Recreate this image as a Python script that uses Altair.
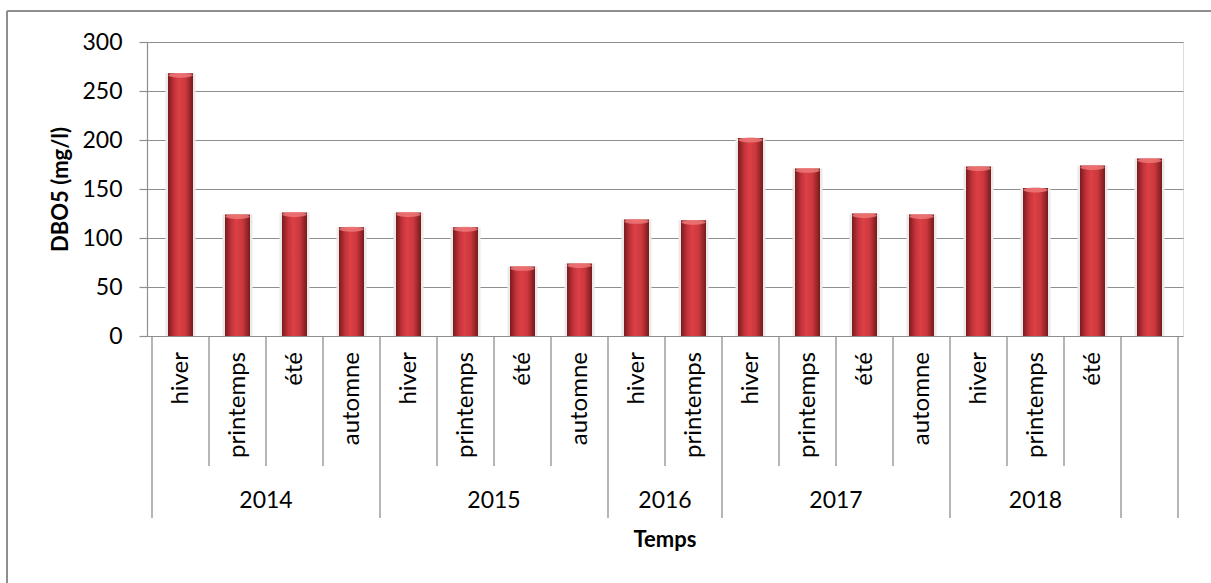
import altair as alt
import pandas as pd

# ---- data ----
seasons = ["hiver", "printemps", "été", "automne",
           "hiver", "printemps", "été", "automne",
           "hiver", "printemps",
           "hiver", "printemps", "été", "automne",
           "hiver", "printemps", "été",
           ""]
years = ["2014", "2014", "2014", "2014",
         "2015", "2015", "2015", "2015",
         "2016", "2016",
         "2017", "2017", "2017", "2017",
         "2018", "2018", "2018",
         ""]
dbo5 = [268, 124, 126, 111,
        126, 111, 71, 74,
        119, 118,
        202, 171, 125, 124,
        173, 151, 174,
        181]
x_title = ["Temps"]

n = len(dbo5)
bars = pd.DataFrame({
    "x": [i + 0.5 for i in range(n)],
    "value": dbo5,
    "season": seasons,
    "year": years,
})

# boundaries between categories (year boundaries run down through the year row)
bounds = []
for b in range(n + 1):
    full = b == 0 or b == n or years[b] != years[b - 1]
    bounds.append({"x": b, "full": full})
bounds = pd.DataFrame(bounds)

# year group centres
groups = []
start = 0
for i in range(1, n + 1):
    if i == n or years[i] != years[start]:
        groups.append({"x": (start + i) / 2, "year": years[start]})
        start = i
groups = pd.DataFrame(groups)

title_df = pd.DataFrame({"x": [n / 2], "t": x_title})

GRID = "#8e8e8e"
FONT = "Lato"
W, H = 1036, 294

xscale = alt.Scale(domain=[0, n], nice=False, zero=False)
yscale = alt.Scale(domain=[0, 300], nice=False)


def X():
    return alt.X("x:Q", scale=xscale, axis=None)


y_axis = alt.Axis(title="DBO5 (mg/l)", values=[0, 50, 100, 150, 200, 250, 300],
                  grid=True, gridColor=GRID, gridWidth=1.2,
                  domainColor=GRID, domainWidth=1.2,
                  tickColor=GRID, tickWidth=1.2, tickSize=8,
                  labelFont=FONT, labelFontSize=23, labelColor="#000000", labelPadding=17,
                  titleFont=FONT, titleFontSize=22, titleFontWeight="bold", titleColor="#000000",
                  titleX=-87, titleY=H / 2, titleBaseline="middle", titleAngle=270)

grad = alt.Gradient(
    gradient="linear",
    stops=[
        alt.GradientStop(color="#7a1b1d", offset=0),
        alt.GradientStop(color="#c3333a", offset=0.25),
        alt.GradientStop(color="#dc4046", offset=0.45),
        alt.GradientStop(color="#cc383d", offset=0.7),
        alt.GradientStop(color="#761a1c", offset=1),
    ],
    x1=0, x2=1, y1=0, y2=0,
)

base_b = alt.Chart(bars)

shadow = base_b.mark_bar(color="#eaeaea", size=30).encode(
    x=X(),
    y=alt.Y("value:Q", scale=yscale, axis=y_axis),
)

bar = base_b.mark_bar(color=grad, size=25).encode(
    x=X(),
    y=alt.Y("value:Q", scale=yscale),
)

cap = base_b.mark_point(
    shape="M-1,0 A1,0.2 0 1,0 1,0 A1,0.2 0 1,0 -1,0 Z",
    filled=True, color="#f07c7c", opacity=0.8, size=600, yOffset=2, strokeWidth=0,
).encode(
    x=X(),
    y=alt.Y("value:Q", scale=yscale),
)

season_text = base_b.mark_text(
    angle=270, align="right", baseline="middle", font=FONT, fontSize=24, color="#000000"
).encode(
    x=X(),
    y=alt.value(H + 16),
    text="season:N",
)

year_text = alt.Chart(groups).mark_text(
    align="center", baseline="middle", font=FONT, fontSize=23, color="#000000"
).encode(
    x=X(),
    y=alt.value(H + 165),
    text="year:N",
)

temps_text = alt.Chart(title_df).mark_text(
    align="center", baseline="middle", font=FONT, fontSize=22, fontWeight="bold", color="#000000"
).encode(
    x=X(),
    y=alt.value(H + 204),
    text="t:N",
)

short_sep = alt.Chart(bounds).transform_filter("!datum.full").mark_rule(
    color=GRID, strokeWidth=1.3
).encode(x=X(), y=alt.value(H), y2=alt.value(H + 130))

long_sep = alt.Chart(bounds).transform_filter("datum.full").mark_rule(
    color=GRID, strokeWidth=1.3
).encode(x=X(), y=alt.value(H), y2=alt.value(H + 182))

# outer chart-area border (left and top edges visible)
border_left = alt.Chart(bars).mark_rule(color=GRID, strokeWidth=1.3).encode(
    x=alt.value(-140), y=alt.value(-31), y2=alt.value(H + 300))
border_top = alt.Chart(bars).mark_rule(color=GRID, strokeWidth=1.3).encode(
    x=alt.value(-140), x2=alt.value(W + 100), y=alt.value(-31))

chart = alt.layer(
    border_left, border_top, shadow, bar, cap, short_sep, long_sep,
    season_text, year_text, temps_text
).properties(
    width=W, height=H,
    autosize=alt.AutoSizeParams(type="none"),
    padding={"left": 147, "top": 42, "right": 28, "bottom": 247},
).configure_view(stroke=None).configure(font=FONT, background="white")

chart.save("out.html", embed_options={"renderer": "svg", "actions": False})
